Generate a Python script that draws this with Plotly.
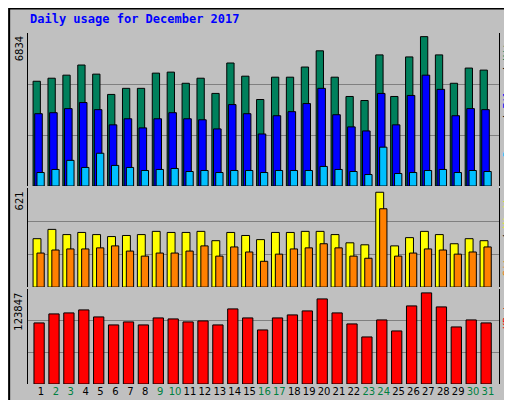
import plotly.graph_objects as go

days = list(range(1, 32))
weekend = [2, 3, 9, 10, 16, 17, 23, 24, 30, 31]

hits = [4793, 4932, 5071, 5535, 5118, 4190, 4469, 4469, 5164, 5211, 4700, 4932, 4237, 5628, 5025, 3958,
        4979, 4979, 5443, 6185, 4979, 4097, 3912, 5999, 4097, 5906, 6834, 5999, 4700, 5396, 5303]
files = [3309, 3355, 3541, 3819, 3494, 2799, 3077, 2659, 3077, 3355, 3077, 3030, 2613, 3726, 3309, 2381,
         3216, 3402, 3773, 4469, 3262, 2706, 2520, 4237, 2799, 4144, 5071, 4422, 3216, 3541, 3494]
pages = [618, 758, 1175, 850, 1500, 943, 850, 711, 758, 804, 665, 711, 618, 711, 711, 618,
         711, 711, 711, 897, 758, 665, 526, 1778, 572, 618, 711, 758, 618, 711, 665]
visits = [317, 378, 344, 358, 344, 331, 338, 344, 365, 358, 358, 365, 304, 358, 338, 311,
          358, 358, 365, 365, 344, 290, 277, 621, 270, 324, 365, 344, 284, 317, 304]
sites = [223, 243, 250, 250, 257, 270, 236, 203, 223, 223, 236, 270, 203, 263, 230, 169,
         216, 250, 257, 284, 257, 203, 189, 513, 203, 223, 250, 243, 216, 230, 263]
kbytes = [83009, 95258, 96620, 100700, 91175, 80290, 84370, 80290, 89815, 88454, 84370, 85732, 80290,
          102062, 89815, 73485, 89815, 93898, 99340, 115670, 96620, 81650, 63960, 87093, 72124,
          106143, 123847, 104785, 77566, 87093, 83009]

mono = "DejaVu Sans Mono"
line = dict(color="black", width=1)

fig = go.Figure()


def bar(y, color, offset, width, ax):
    fig.add_trace(go.Bar(x=days, y=y, marker=dict(color=color, line=line),
                         offset=offset, width=width, xaxis="x", yaxis=ax, hoverinfo="y"))


bar(hits, "#00805c", -0.53, 0.49, "y")
bar(files, "#0000ff", -0.42, 0.51, "y")
bar(pages, "#00c0ff", -0.27, 0.49, "y")
bar(visits, "#ffff00", -0.53, 0.53, "y2")
bar(sites, "#ff8000", -0.27, 0.49, "y2")
bar(kbytes, "#ff0000", -0.47, 0.69, "y3")

ticktext = ['<span style="color:#008040">%d</span>' % d if d in weekend else str(d) for d in days]

ranges = {"yaxis": (7000, [0.564, 1]), "yaxis2": (648, [0.276, 0.558]), "yaxis3": (129300, [0, 0.271])}
layout = dict(
    barmode="overlay", showlegend=False, width=512, height=400,
    margin=dict(l=20, r=21, t=25, b=24),
    paper_bgcolor="#c0c0c0", plot_bgcolor="#c0c0c0",
    font=dict(family="DejaVu Sans", size=10, color="black"),
    xaxis=dict(range=[0.13, 31.74], tickvals=days, ticktext=ticktext, ticks="", showgrid=False,
               zeroline=False, anchor="y3", tickangle=0, automargin=False,
               tickfont=dict(size=10, family="DejaVu Sans")),
)
for name, (top, dom) in ranges.items():
    layout[name] = dict(range=[0, top], domain=dom, tickvals=[top / 3, 2 * top / 3], showticklabels=False,
                        gridcolor="#808080", gridwidth=1, zeroline=False, showline=True, mirror=True,
                        linecolor="black", ticks="")
fig.update_layout(**layout)

for txt, ytop in [("6834", 1.0), ("621", 0.558), ("123847", 0.271)]:
    fig.add_annotation(text=txt, xref="paper", yref="paper", x=-0.003, y=ytop - 0.005, xanchor="right",
                       yanchor="top", textangle=-90, showarrow=False, font=dict(size=10))

right = [
    ('<span style="color:#00c0ff">Pages</span> / <span style="color:#0000ff">Files</span> / '
     '<span style="color:#00805c">Hits</span>', 1.0),
    ('<span style="color:#ff8000">Sites</span> / <span style="color:#ffff00">Visits</span>', 0.558),
    ('<span style="color:#ff0000">KBytes</span>', 0.271),
]
for txt, ytop in right:
    fig.add_annotation(text=txt, xref="paper", yref="paper", x=1.002, y=ytop - 0.005, xanchor="left",
                       yanchor="top", textangle=-90, showarrow=False,
                       font=dict(size=10, family=mono))

fig.add_annotation(text="<b>Daily usage for December 2017</b>", xref="paper", yref="paper",
                   x=-0.0, y=1.04, xanchor="left", yanchor="middle", showarrow=False,
                   font=dict(size=12, color="#0000ff", family=mono))

fig.add_shape(type="rect", xref="paper", yref="paper", x0=-0.04, x1=1.045, y0=-0.07, y1=1.07,
              line=dict(color="black", width=2), layer="below")

fig.write_html("out.html")
